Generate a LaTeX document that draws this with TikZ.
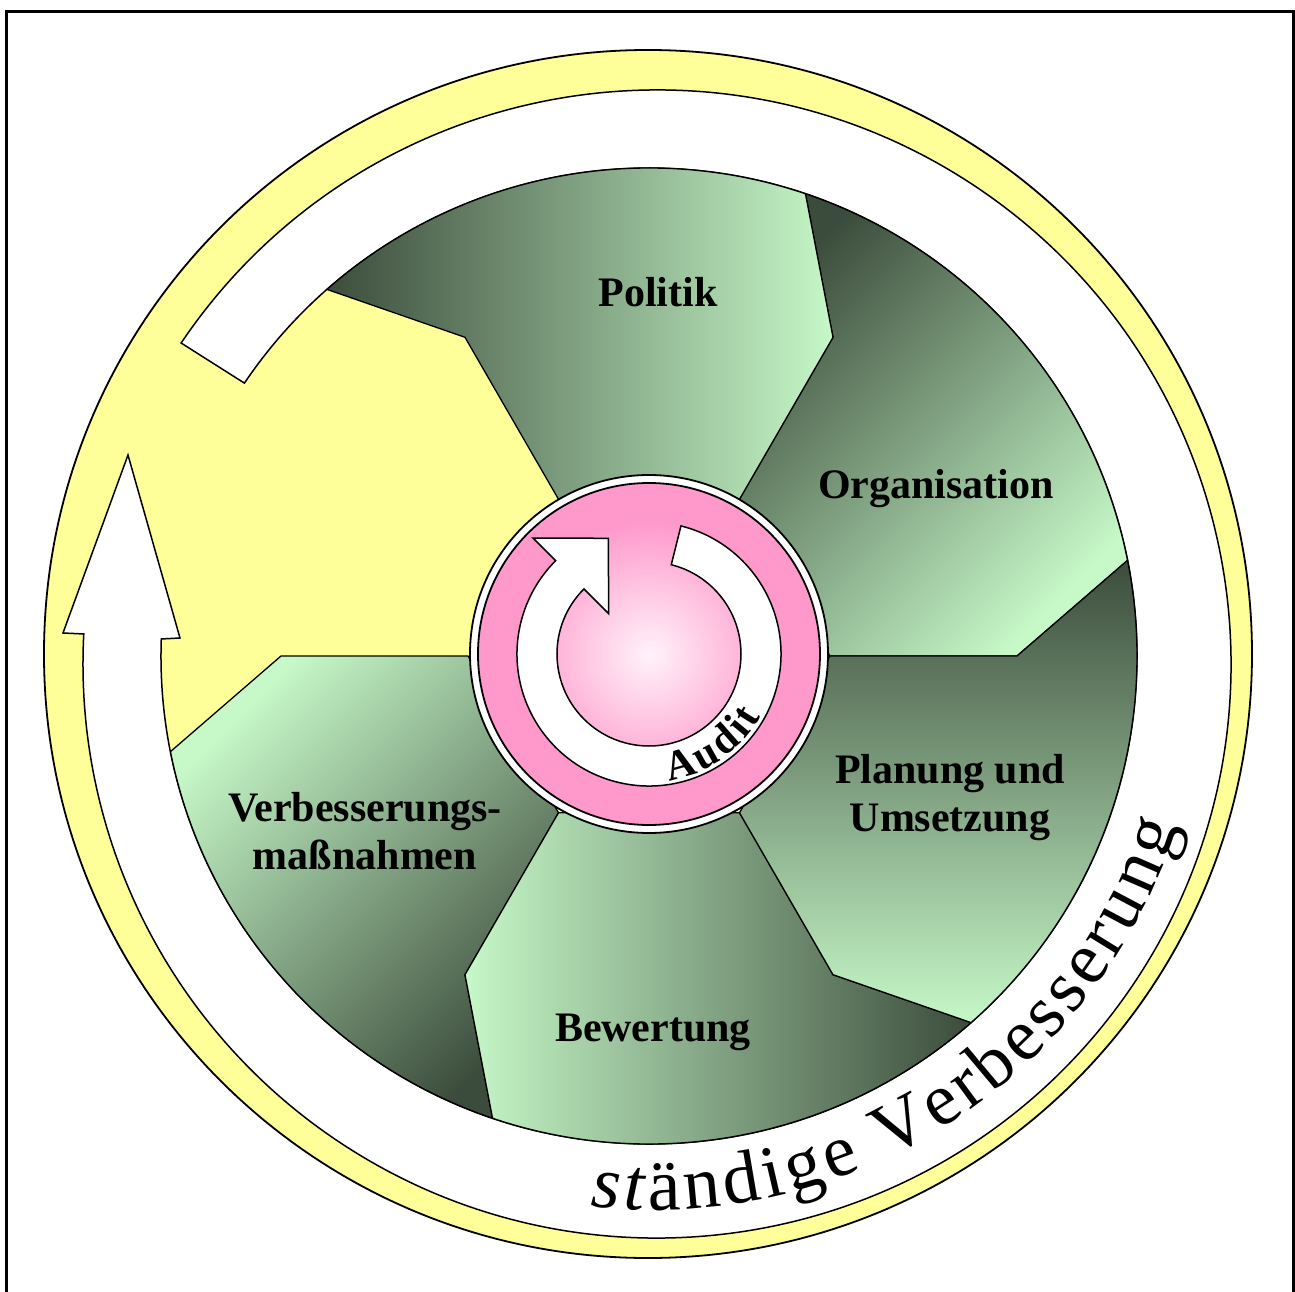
\documentclass[tikz,border=0pt]{standalone}
\usepackage{fontspec}
\setmainfont{Liberation Serif}
\usetikzlibrary{decorations.text}
\definecolor{lemon}{RGB}{255,255,153}
\definecolor{rose}{RGB}{255,153,204}
\definecolor{mint}{RGB}{198,248,200}
\definecolor{moss}{RGB}{60,76,60}
\tikzstyle{frame} = [line width=3pt]
\tikzstyle{disk} = [draw=black, line width=1.8pt]
\tikzstyle{sector} = [draw=black, line width=1.3pt]
\tikzstyle{bandarrow} = [fill=white, draw=black, line width=1.5pt, line join=miter]
\tikzstyle{caption} = [font=\fontsize{42}{48}\selectfont\bfseries, align=center, inner sep=0pt]

\begin{document}
\begin{tikzpicture}[x=1pt, y=1pt]

            \useasboundingbox (-649,-635) rectangle (646,656);
            \coordinate (hub) at (0,0);
            \coordinate (audit) at (0,2);

            % frame, open at the bottom
            \draw [frame] (-642.5,-640) -- (-642.5,644) -- (644.5,644) -- (644.5,-640);

            % yellow ring with the white arrow round it
            \draw [disk, fill=lemon] (-1,2) circle [radius=604];
            \draw [bandarrow] ([shift={(8,-8)}]146:574) arc [start angle=146, end angle=-183, radius=574]
                -- (-586,23) -- (-521,201) -- (-469,18) -- (178:488) arc [start angle=-182, end angle=146, radius=488] -- cycle;

            % the five green sectors
            \draw [sector, top color=moss, bottom color=mint, shading angle=45] (0:181) -- (0:368) -- (11.3:488) arc [start angle=11.3, end angle=71.3, radius=488] -- (60:368) -- (60:181) -- cycle;
            \draw [sector, left color=moss, right color=mint] (60:181) -- (60:368) -- (71.3:488) arc [start angle=71.3, end angle=131.3, radius=488] -- (120:368) -- (120:181) -- cycle;
            \draw [sector, top color=mint, bottom color=moss, shading angle=45] (180:181) -- (180:368) -- (191.3:488) arc [start angle=191.3, end angle=251.3, radius=488] -- (240:368) -- (240:181) -- cycle;
            \draw [sector, left color=mint, right color=moss] (240:181) -- (240:368) -- (251.3:488) arc [start angle=251.3, end angle=311.3, radius=488] -- (300:368) -- (300:181) -- cycle;
            \draw [sector, top color=moss, bottom color=mint] (300:181) -- (300:368) -- (311.3:488) arc [start angle=311.3, end angle=371.3, radius=488] -- (360:368) -- (360:181) -- cycle;

            % audit disk
            \draw [disk, fill=white] (audit) circle [radius=179];
            \draw [disk, fill=rose] (audit) circle [radius=171];
            \shade [inner color=rose!12, outer color=rose] (audit) circle [radius=132];
            \draw [bandarrow] ([shift={(0,2)}]76:132) arc [start angle=76, end angle=-225, radius=132]
                -- ([shift={(0,2)}]135:164) -- (-40.7,117.7) -- ([shift={(0,2)}]135:57) -- ([shift={(0,2)}]135:92) arc [start angle=135, end angle=436, radius=92] -- cycle;

            \node (politik) [caption, anchor=base] at (9,349) {Politik};
            \node (organisation) [caption, anchor=base] at (287,158) {Organisation};
            \node (planung) [caption, anchor=north] at (301,-98) {Planung und\\Umsetzung};
            \node (bewertung) [caption, anchor=base] at (4,-385) {Bewertung};
            \node (massnahmen) [caption, anchor=north] at (-284,-136) {Verbesserungs-\\maßnahmen};

            \path [decorate, decoration={text along path, text={|\fontsize{42}{42}\selectfont\bfseries|Audit}, text align=fit to path}]
                ([shift={(0,2)}]-81:128) arc [start angle=-81, end angle=-29, radius=128];
            \path [decorate, decoration={text along path, text={|\fontsize{74}{74}\selectfont\itshape|st|\fontsize{74}{74}\selectfont\upshape|ändige Verbesserung}, text align=fit to path}]
                ([shift={(4,-4)}]-96.5:550) arc [start angle=-96.5, end angle=-17.5, radius=550];

\end{tikzpicture}
\end{document}
